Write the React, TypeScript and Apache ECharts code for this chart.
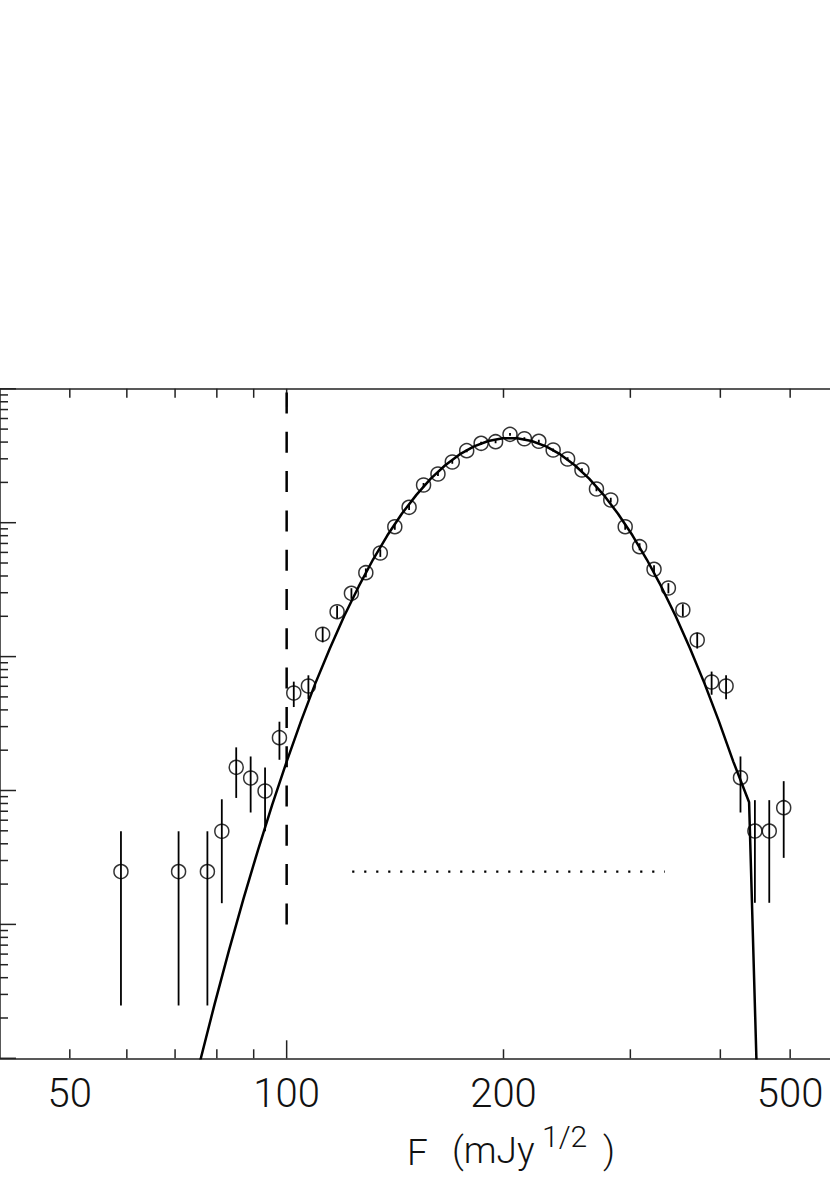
import React, { useEffect, useRef } from "react";
import * as echarts from "echarts";

// Binned counts (x in mJy^1/2, y in arbitrary log-scaled units)
const binFlux = [
  58.88, 70.79, 77.62, 81.28, 85.11, 89.13, 93.33, 97.72, 102.3, 107.2,
  112.2, 117.5, 123.0, 128.8, 134.9, 141.3, 147.9, 154.9, 162.2, 169.8,
  177.8, 186.2, 195.0, 204.2, 213.8, 223.9, 234.4, 245.5, 257.0, 269.2,
  281.8, 295.1, 309.0, 323.6, 338.8, 354.8, 371.5, 389.0, 407.4, 426.6,
  446.7, 467.7, 489.8,
];
const binValue = [
  24.8, 24.8, 24.8, 49.6, 149, 124, 99.2, 248, 535, 603,
  1468, 2164, 2970, 4232, 5937, 9334, 13032, 19125, 23102, 28408,
  34498, 39170, 40270, 45700, 42370, 40550, 34920, 29910, 24750, 17850,
  14770, 9334, 6619, 4487, 3253, 2228, 1330, 646, 603, 124.6,
  49.8, 49.8, 74.4,
];
const errLow = [
  2.48, 2.48, 2.48, 14.4, 88, 68.5, 49.6, 169.6, 420, 481,
  1277, 1932, 2699, 3908, 5553, 8853, 12464, 18436, 22345, 27569,
  33573, 38184, 39271, 44635, 41345, 39547, 33989, 29049, 23966, 17185,
  14165, 8853, 6214, 4153, 2969, 1993, 1148, 519, 481, 68.5,
  14.5, 14.5, 31.4,
];
const errHigh = [
  49.6, 49.6, 49.6, 86, 210, 179.5, 148.8, 326.4, 650, 725,
  1659, 2396, 3241, 4556, 6321, 9815, 13600, 19814, 23859, 29247,
  35423, 40156, 41269, 46765, 43395, 41553, 35851, 30771, 25534, 18515,
  15375, 9815, 7024, 4821, 3537, 2463, 1512, 773, 725, 179.5,
  84.7, 84.7, 117.4,
];

// Model curve
const modelFlux = [
  72.44, 75.86, 79.43, 83.18, 87.1, 91.2, 95.5, 100, 104.7, 109.6,
  114.8, 120.2, 125.9, 131.8, 138.0, 144.5, 151.4, 158.5, 166.0, 173.8,
  182.0, 190.5, 199.5, 208.9, 218.8, 229.1, 239.9, 251.2, 263.0, 275.4,
  288.4, 302.0, 316.2, 331.1, 346.7, 363.1, 380.2, 398.1, 416.9, 438.5,
  451.6,
];
const modelValue = [
  0.347, 0.96, 2.54, 6.43, 15.5, 35.6, 78.3, 164.4, 329.6, 631,
  1151, 2009, 3342, 5309, 8054, 11670, 16140, 21330, 26850, 32360,
  37150, 40740, 42710, 42710, 40740, 37150, 32360, 26850, 21330, 16140,
  11670, 8054, 5309, 3342, 2009, 1151, 631, 329.6, 164.4, 81.7,
  0.316,
];

// Reference lines
const cutFlux = 100;
const cutRange = [10, 100000];
const oneCountLevel = 24.8;
const oneCountRange = [123.3, 335];

// Axes
const xMin = 40;
const xMax = 1000;
const yMin = 1;
const yMax = 100000;
const xTickLabels = [50, 100, 200, 500];
const xMajorTicks = [100];
const xMinorTicks = [50, 60, 70, 80, 90, 200, 300, 400, 500, 600, 700, 800, 900];
const yMajorTicks = [1, 10, 100, 1000, 10000, 100000];
const yMinorTicks = [
  2, 3, 4, 5, 6, 7, 8, 9,
  20, 30, 40, 50, 60, 70, 80, 90,
  200, 300, 400, 500, 600, 700, 800, 900,
  2000, 3000, 4000, 5000, 6000, 7000, 8000, 9000,
  20000, 30000, 40000, 50000, 60000, 70000, 80000, 90000,
];

const AXIS_COLOR = "#222";
const FONT = "Roboto";

export default function App() {
  const ref = useRef<HTMLDivElement>(null);

  useEffect(() => {
    if (!ref.current) return;
    const chart = echarts.init(ref.current, undefined, { renderer: "svg" });

    const tickData: number[][] = [];
    xMajorTicks.forEach((v) => tickData.push([v, yMin, 0, 18]));
    xMinorTicks.forEach((v) => tickData.push([v, yMin, 0, 9]));
    yMajorTicks.forEach((v) => tickData.push([xMin, v, 1, 16]));
    yMinorTicks.forEach((v) => tickData.push([xMin, v, 1, 8]));

    const option: any = {
      animation: false,
      backgroundColor: "#fff",
      grid: { left: -1, top: 388.8, width: 1008, height: 669.5, containLabel: false },
      xAxis: [
        {
          type: "log",
          min: xMin,
          max: xMax,
          position: "bottom",
          axisLine: { show: true, lineStyle: { color: AXIS_COLOR, width: 1.5 } },
          axisTick: { show: false },
          splitLine: { show: false },
          minorTick: { show: false },
          axisLabel: {
            show: true,
            customValues: xTickLabels,
            margin: 15,
            fontFamily: FONT,
            fontWeight: 300,
            fontSize: 40,
            lineHeight: 40,
            color: "#111",
          },
        },
        {
          type: "log",
          min: xMin,
          max: xMax,
          position: "top",
          axisLine: { show: true, lineStyle: { color: AXIS_COLOR, width: 1.5 } },
          axisTick: { show: false },
          splitLine: { show: false },
          axisLabel: { show: false },
        },
      ],
      yAxis: [
        {
          type: "log",
          min: yMin,
          max: yMax,
          position: "left",
          axisLine: { show: true, lineStyle: { color: AXIS_COLOR, width: 1.5 } },
          axisTick: { show: false },
          splitLine: { show: false },
          axisLabel: { show: false },
        },
        {
          type: "log",
          min: yMin,
          max: yMax,
          position: "right",
          axisLine: { show: true, lineStyle: { color: AXIS_COLOR, width: 1.5 } },
          axisTick: { show: false },
          splitLine: { show: false },
          axisLabel: { show: false },
        },
      ],
      graphic: [
        {
          type: "text",
          left: 407,
          top: 1134,
          style: { text: "F", fontFamily: FONT, fontWeight: 300, fontSize: 37, fill: "#111" },
        },
        {
          type: "text",
          left: 452,
          top: 1132,
          style: { text: "(mJy", fontFamily: FONT, fontWeight: 300, fontSize: 37, fill: "#111" },
        },
        {
          type: "text",
          left: 542,
          top: 1121,
          style: { text: "1/2", fontFamily: FONT, fontWeight: 300, fontSize: 30, fill: "#111" },
        },
        {
          type: "text",
          left: 603,
          top: 1132,
          style: { text: ")", fontFamily: FONT, fontWeight: 300, fontSize: 37, fill: "#111" },
        },
      ],
      series: [
        {
          name: "ticks",
          type: "custom",
          xAxisIndex: 0,
          yAxisIndex: 0,
          silent: true,
          clip: false,
          data: tickData,
          encode: { x: 0, y: 1 },
          renderItem: (params: any, api: any) => {
            const cs = params.coordSys;
            const kind = api.value(2);
            const len = api.value(3);
            const style = { stroke: AXIS_COLOR, lineWidth: 1.5 };
            if (kind === 0) {
              const p = api.coord([api.value(0), yMin]);
              const x = p[0];
              return {
                type: "group",
                children: [
                  { type: "line", shape: { x1: x, y1: cs.y + cs.height, x2: x, y2: cs.y + cs.height - len }, style },
                  { type: "line", shape: { x1: x, y1: cs.y, x2: x, y2: cs.y + len }, style },
                ],
              };
            }
            const p = api.coord([xMin, api.value(1)]);
            const y = p[1];
            return {
              type: "group",
              children: [
                { type: "line", shape: { x1: cs.x, y1: y, x2: cs.x + len, y2: y }, style },
                { type: "line", shape: { x1: cs.x + cs.width, y1: y, x2: cs.x + cs.width - len, y2: y }, style },
              ],
            };
          },
        },
        {
          name: "model",
          type: "line",
          data: modelFlux.map((x, i) => [x, modelValue[i]]),
          showSymbol: false,
          symbol: "none",
          clip: true,
          lineStyle: { color: "#000", width: 2.5 },
          z: 3,
        },
        {
          name: "flux cut",
          type: "line",
          data: [
            [cutFlux, cutRange[0]],
            [cutFlux, cutRange[1]],
          ],
          showSymbol: false,
          symbol: "none",
          lineStyle: { color: "#000", width: 2.5, type: [21, 18.3] },
          z: 3,
        },
        {
          name: "one count",
          type: "line",
          data: [
            [oneCountRange[0], oneCountLevel],
            [oneCountRange[1], oneCountLevel],
          ],
          showSymbol: false,
          symbol: "none",
          lineStyle: { color: "#000", width: 2.2, type: [2.2, 9.8] },
          z: 3,
        },
        {
          name: "errors",
          type: "custom",
          data: binFlux.map((x, i) => [x, errLow[i], errHigh[i]]),
          encode: { x: 0, y: [1, 2] },
          clip: true,
          renderItem: (params: any, api: any) => {
            const lo = api.coord([api.value(0), api.value(1)]);
            const hi = api.coord([api.value(0), api.value(2)]);
            return {
              type: "line",
              shape: { x1: lo[0], y1: lo[1], x2: hi[0], y2: hi[1] },
              style: { stroke: "#000", lineWidth: 1.8 },
            };
          },
          z: 4,
        },
        {
          name: "counts",
          type: "scatter",
          data: binFlux.map((x, i) => [x, binValue[i]]),
          symbol: "circle",
          symbolSize: 14,
          itemStyle: { color: "rgba(0,0,0,0)", borderColor: "#000", borderWidth: 1.5 },
          z: 5,
        },
      ],
    };

    chart.setOption(option);
    return () => chart.dispose();
  }, []);

  return (
    <div
      style={{
        position: "absolute",
        left: 0,
        top: 0,
        width: 830,
        height: 1178,
        overflow: "hidden",
        background: "#fff",
      }}
    >
      <div ref={ref} style={{ width: 1020, height: 1178 }} />
    </div>
  );
}
